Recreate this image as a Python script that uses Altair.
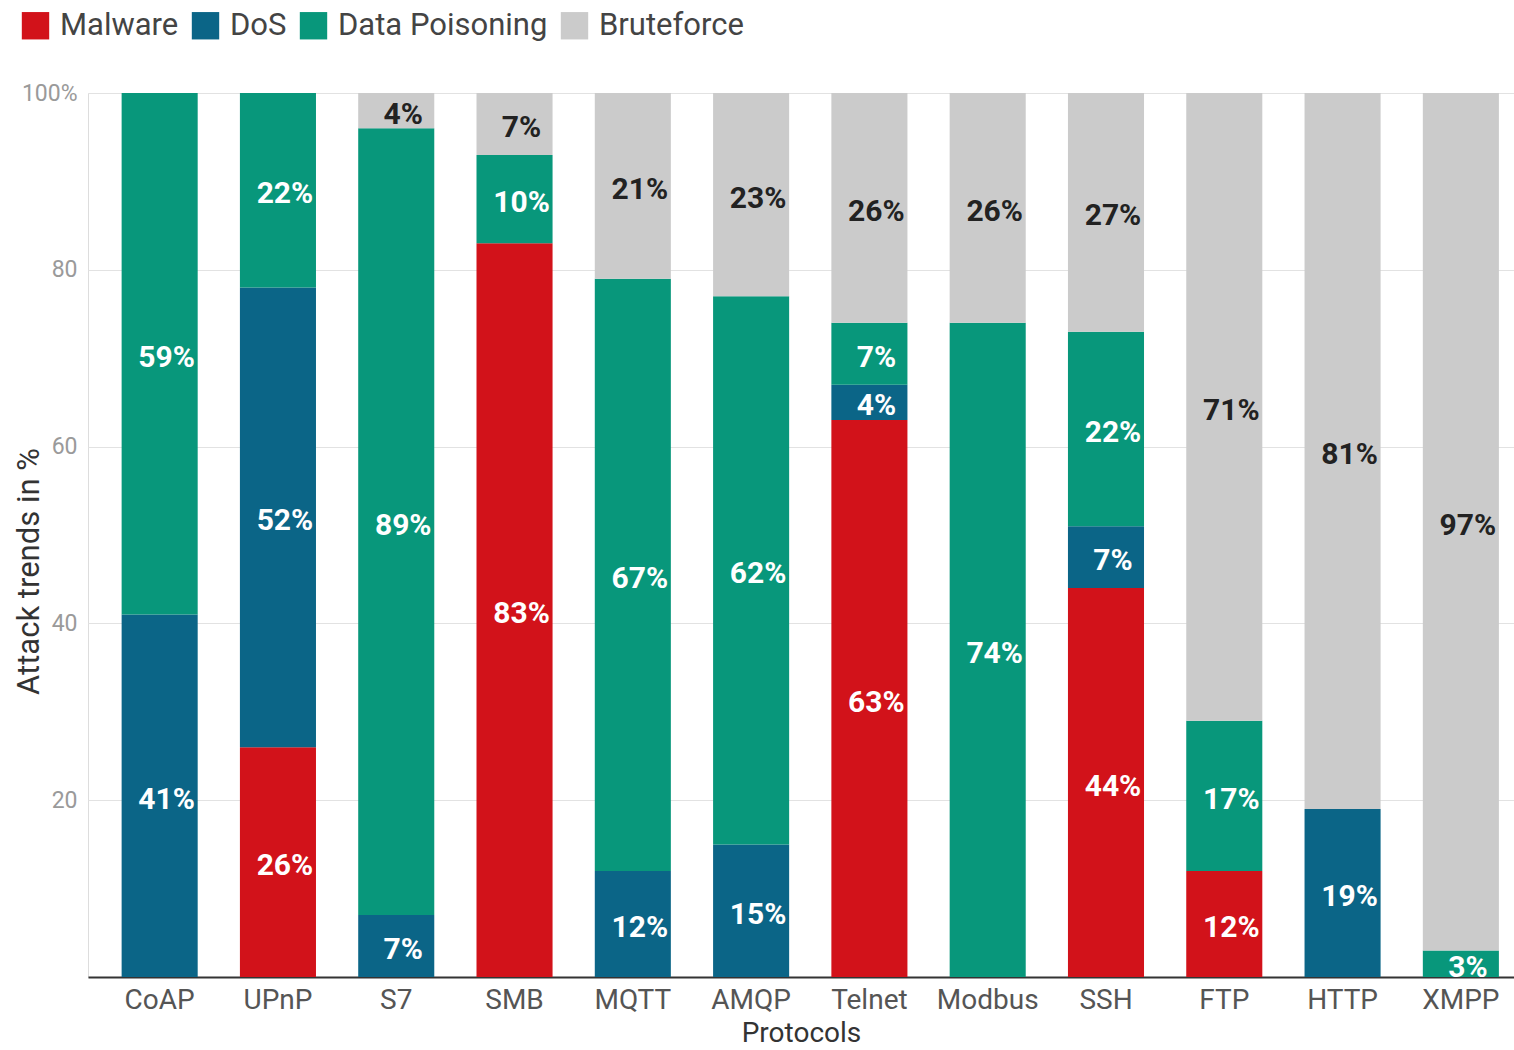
import altair as alt
import pandas as pd

protocols = ["CoAP", "UPnP", "S7", "SMB", "MQTT", "AMQP", "Telnet", "Modbus", "SSH", "FTP", "HTTP", "XMPP"]
malware = [0, 26, 0, 83, 0, 0, 63, 0, 44, 12, 0, 0]
dos = [41, 52, 7, 0, 12, 15, 4, 0, 7, 0, 19, 0]
poisoning = [59, 22, 89, 10, 67, 62, 7, 74, 22, 17, 0, 3]
bruteforce = [0, 0, 4, 7, 21, 23, 26, 26, 27, 71, 81, 97]

series = ["Malware", "DoS", "Data Poisoning", "Bruteforce"]
colors = ["#D2121A", "#0B6587", "#08977B", "#CBCBCB"]

rows = []
for name, vals in zip(series, [malware, dos, poisoning, bruteforce]):
    for p, v in zip(protocols, vals):
        rows.append({"protocol": p, "series": name, "value": v, "order": series.index(name)})
df = pd.DataFrame(rows)

FONT = "Roboto"

base = alt.Chart(df).transform_filter("datum.value > 0").transform_stack(
    stack="value", as_=["y0", "y1"], groupby=["protocol"],
    sort=[alt.SortField("order", order="ascending")]
)

xenc = alt.X("protocol:N", sort=protocols,
             scale=alt.Scale(paddingInner=0.357, paddingOuter=0.206, align=0.69),
             axis=alt.Axis(title="Protocols", labelAngle=0, labelFontSize=28, labelColor="#555555",
                           labelFont=FONT, labelPadding=9, ticks=False,
                           domainColor="#333333", domainWidth=2,
                           titleFontSize=28, titleFont=FONT, titleFontWeight="normal",
                           titleColor="#333333", titleY=64, titleBaseline="alphabetic"))

bars = base.mark_bar().encode(
    x=xenc,
    y=alt.Y("y0:Q", scale=alt.Scale(domain=[0, 100], nice=False),
            axis=alt.Axis(title="Attack trends in %", values=[0, 20, 40, 60, 80, 100],
                          labelExpr="datum.value == 100 ? '100%' : (datum.value == 0 ? '' : datum.label)",
                          labelFontSize=23, labelColor="#9a9a9a", labelFont=FONT, labelPadding=11,
                          domain=False, ticks=False, gridColor="#e2e2e2", gridWidth=1,
                          titleFontSize=31, titleFont=FONT, titleFontWeight="normal",
                          titleColor="#333333", titleX=-43, titleY=478, titleAngle=270)),
    y2="y1:Q",
    color=alt.Color("series:N", sort=series,
                    scale=alt.Scale(domain=series, range=colors),
                    legend=alt.Legend(title=None, orient="none", direction="horizontal",
                                      legendX=-68, legendY=-83, symbolType="square",
                                      symbolSize=750, symbolStrokeWidth=0, symbolOpacity=1,
                                      labelFontSize=31, labelFont=FONT, labelColor="#444444",
                                      labelLimit=400, labelOffset=9, columnPadding=11, columns=4)),
    order=alt.Order("order:Q"),
)

labels = base.transform_calculate(
    mid="(datum.y0 + datum.y1) / 2",
    txt="datum.value + '%'",
    dark="datum.series == 'Bruteforce' ? 1 : 0",
).mark_text(fontSize=30, fontWeight="bold", font=FONT, baseline="middle", align="center",
            dx=7, dy=4).encode(
    x=alt.X("protocol:N", sort=protocols),
    y=alt.Y("mid:Q"),
    text="txt:N",
    color=alt.condition("datum.dark == 1", alt.value("#222222"), alt.value("#ffffff")),
)

chart = alt.layer(bars, labels).properties(
    width=1426, height=884,
    autosize=alt.AutoSizeParams(type="none"),
    padding={"left": 88, "top": 93, "right": 0, "bottom": 73},
).configure_view(stroke=None).configure(background="white")

chart.save("out.html", embed_options={"renderer": "svg", "actions": False})
